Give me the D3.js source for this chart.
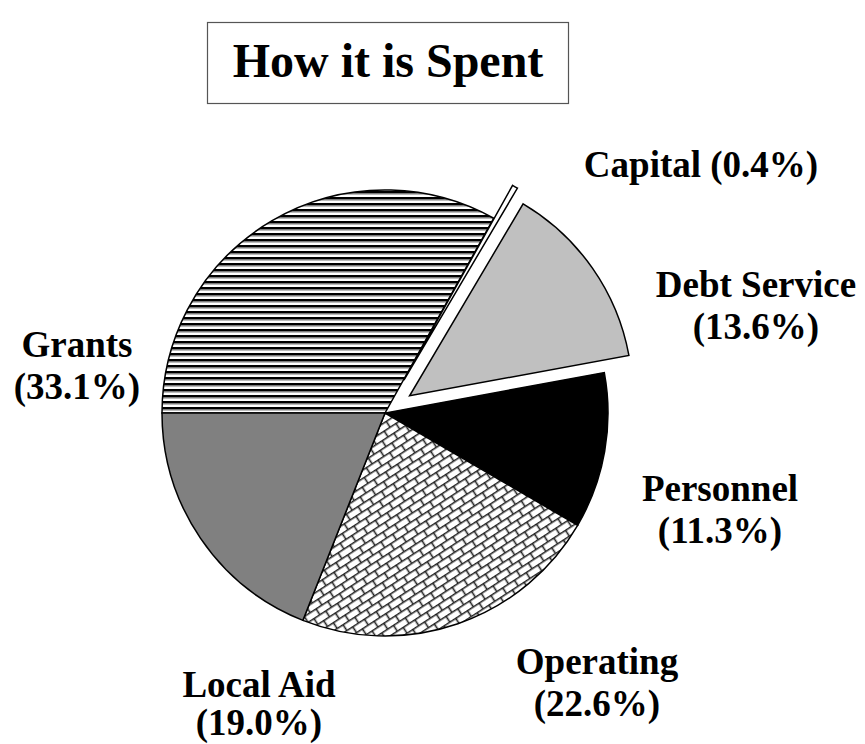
<!DOCTYPE html>
<html>
<head>
<meta charset="utf-8">
<script src="https://cdn.jsdelivr.net/npm/d3@7"></script>
<style>
  html, body { margin: 0; padding: 0; background: #fff; }
  svg { display: block; }
  text { font-family: "Liberation Serif", "Times New Roman", serif; font-weight: bold; fill: #000; }
</style>
</head>
<body>
<svg id="chart" width="865" height="744"></svg>
<script>
// ---- data ----
const categories = ["Grants", "Capital", "Debt Service", "Personnel", "Operating", "Local Aid"];
const shares = [33.1, 0.4, 13.6, 11.3, 22.6, 19.0];
const labelTexts = ["(33.1%)", "(0.4%)", "(13.6%)", "(11.3%)", "(22.6%)", "(19.0%)"];
const titleText = "How it is Spent";

// ---- styles ----
const fills = {
  "Grants": "url(#stripes)",
  "Capital": "#ffffff",
  "Debt Service": "#c0c0c0",
  "Personnel": "#000000",
  "Operating": "url(#weave)",
  "Local Aid": "#808080"
};
const explode = { "Capital": 38, "Debt Service": 30 };

const svg = d3.select("#chart");
const defs = svg.append("defs");

// horizontal stripes pattern
const st = defs.append("pattern").attr("id", "stripes")
  .attr("patternUnits", "userSpaceOnUse").attr("width", 8).attr("height", 6);
st.append("rect").attr("width", 8).attr("height", 6).attr("fill", "#fff");
st.append("rect").attr("y", 0).attr("width", 8).attr("height", 2.5).attr("fill", "#000");
st.append("rect").attr("y", 2.5).attr("width", 8).attr("height", 1).attr("fill", "#777");

// weave / lattice pattern
const wv = defs.append("pattern").attr("id", "weave")
  .attr("patternUnits", "userSpaceOnUse").attr("width", 14).attr("height", 14)
  .attr("patternTransform", "rotate(-33)");
wv.append("rect").attr("width", 14).attr("height", 14).attr("fill", "#fff");
wv.append("path")
  .attr("d", "M0,0.8H14 M0,7.8H14 M3.5,0V7.8 M10.5,7.8V14")
  .attr("stroke", "#222").attr("stroke-width", 1.6).attr("fill", "none");

// ---- title ----
svg.append("rect").attr("x", 207.5).attr("y", 22.5).attr("width", 361).attr("height", 81)
  .attr("fill", "#fff").attr("stroke", "#555").attr("stroke-width", 1.2);
svg.append("text").attr("x", 388).attr("y", 77).attr("text-anchor", "middle")
  .attr("font-size", 48).text(titleText);

// ---- pie ----
const cx = 385, cy = 413, R = 223;
const data = categories.map((c, i) => ({ name: c, value: shares[i], label: labelTexts[i] }));
const pie = d3.pie().sort(null).value(d => d.value)
  .startAngle(-Math.PI / 2).endAngle(3 * Math.PI / 2);
const arc = d3.arc().innerRadius(0).outerRadius(R);
const arcs = pie(data);

const g = svg.append("g").attr("transform", `translate(${cx},${cy})`);
g.selectAll("path.slice").data(arcs).join("path")
  .attr("class", "slice")
  .attr("transform", d => {
    const off = explode[d.data.name] || 0;
    const a = (d.startAngle + d.endAngle) / 2;
    return `translate(${off * Math.sin(a)},${-off * Math.cos(a)})`;
  })
  .attr("d", arc)
  .attr("fill", d => fills[d.data.name])
  .attr("stroke", "#000").attr("stroke-width", 1.5).attr("stroke-linejoin", "miter");

// ---- labels ----
const labelPos = {
  "Capital": { x: 701, y: 177, oneLine: true },
  "Debt Service": { x: 756, y: 297 },
  "Grants": { x: 77, y: 357 },
  "Personnel": { x: 720, y: 501 },
  "Operating": { x: 597, y: 674 },
  "Local Aid": { x: 259, y: 697 }
};
const lineGap = 42;
data.forEach(d => {
  const p = labelPos[d.name];
  const t = svg.append("text").attr("text-anchor", "middle").attr("font-size", 37);
  if (p.oneLine) {
    t.attr("x", p.x).attr("y", p.y).text(d.name + " " + d.label);
  } else {
    t.append("tspan").attr("x", p.x).attr("y", p.y).text(d.name);
    const gap = d.name === "Local Aid" ? 38 : lineGap;
    t.append("tspan").attr("x", p.x).attr("y", p.y + gap).text(d.label);
  }
});
</script>
</body>
</html>
